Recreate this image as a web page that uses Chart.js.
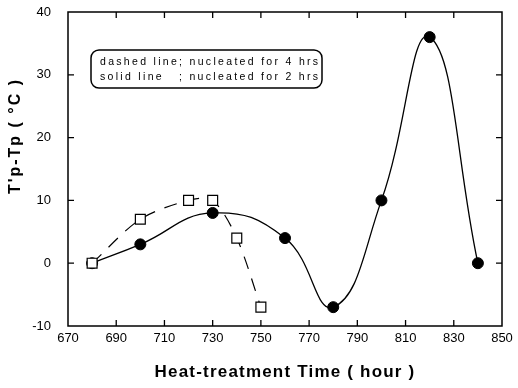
<!DOCTYPE html>
<html>
<head>
<meta charset="utf-8">
<script src="https://cdn.jsdelivr.net/npm/chart.js@4/dist/chart.umd.min.js"></script>
<style>
  html, body { margin: 0; padding: 0; background: #fff; }
  #wrap { width: 518px; height: 388px; }
</style>
</head>
<body>
<div id="wrap"><canvas id="tpChart"></canvas></div>
<script>
// heat-treatment time (hour) and T'p-Tp (°C)
const hours2h = [680, 700, 730, 760, 780, 800, 820, 840];
const diff2h = [0, 3, 8, 4, -7, 10, 36, 0];
const hours4h = [680, 700, 720, 730, 740, 750];
const diff4h = [0, 7, 10, 10, 4, -7];

const xTicks = [670, 690, 710, 730, 750, 770, 790, 810, 830, 850];
const yTicks = [-10, 0, 10, 20, 30, 40];
const noteTop = "dashed line; nucleated for 4 hrs";
const noteLeft = "solid line";
const noteRight = "; nucleated for 2 hrs";
const xTitle = "Heat-treatment Time ( hour )";
const yTitle = "T'p-Tp ( °C )";

const FONT = "'Liberation Sans', Arial, sans-serif";
const toPoints = (xs, ys) => xs.map((x, i) => ({ x: x, y: ys[i] }));

// frame, inward ticks, note box and axis titles
const framePlugin = {
  id: "frame",
  afterDraw(chart) {
    const ctx = chart.ctx;
    const a = chart.chartArea;
    const xs = chart.scales.x;
    const ys = chart.scales.y;
    ctx.save();
    ctx.strokeStyle = "#000";
    ctx.lineWidth = 1.5;
    ctx.strokeRect(a.left, a.top, a.right - a.left, a.bottom - a.top);

    ctx.lineWidth = 1.3;
    ctx.beginPath();
    xTicks.slice(1, -1).forEach(v => {
      const px = xs.getPixelForValue(v);
      ctx.moveTo(px, a.bottom); ctx.lineTo(px, a.bottom - 6);
      ctx.moveTo(px, a.top); ctx.lineTo(px, a.top + 6);
    });
    yTicks.slice(1, -1).forEach(v => {
      const py = ys.getPixelForValue(v);
      ctx.moveTo(a.left, py); ctx.lineTo(a.left + 6, py);
      ctx.moveTo(a.right, py); ctx.lineTo(a.right - 6, py);
    });
    ctx.stroke();

    // note box, text stretched to the box width
    ctx.lineWidth = 1.5;
    ctx.beginPath();
    ctx.roundRect(91, 50, 231, 38, 8);
    ctx.stroke();
    ctx.fillStyle = "#000";
    ctx.font = "10.5px " + FONT;
    const textL = 100, textR = 318;
    const plain = ctx.measureText(noteTop).width;
    const gap = (textR - textL - plain) / (noteTop.length - 1);
    ctx.letterSpacing = gap.toFixed(2) + "px";
    ctx.textBaseline = "alphabetic";
    ctx.fillText(noteTop, textL, 65);
    ctx.fillText(noteLeft, textL, 80);
    ctx.textAlign = "right";
    ctx.fillText(noteRight, textR + gap, 80);

    // x axis title
    ctx.textAlign = "center";
    ctx.textBaseline = "middle";
    ctx.font = "bold 17px " + FONT;
    ctx.letterSpacing = "1.2px";
    ctx.fillText(xTitle, (a.left + a.right) / 2, 372);

    // y axis title
    ctx.translate(16, 136);
    ctx.rotate(-Math.PI / 2);
    ctx.font = "bold 16px " + FONT;
    ctx.letterSpacing = "2px";
    ctx.fillText(yTitle, 0, 0);
    ctx.restore();
  }
};

const ctx = document.getElementById("tpChart").getContext("2d");
new Chart(ctx, {
  type: "scatter",
  data: {
    datasets: [
      {
        label: "nucleated for 4 hrs",
        data: toPoints(hours4h, diff4h),
        showLine: true,
        borderColor: "#000",
        borderWidth: 1.2,
        borderDash: [13, 10],
        tension: 0.3,
        pointStyle: "rect",
        pointRadius: 7,
        pointBackgroundColor: "#fff",
        pointBorderColor: "#000",
        pointBorderWidth: 1.2
      },
      {
        label: "nucleated for 2 hrs",
        data: toPoints(hours2h, diff2h),
        showLine: true,
        borderColor: "#000",
        borderWidth: 1.3,
        tension: 0.45,
        pointStyle: "circle",
        pointRadius: 5.5,
        pointBackgroundColor: "#000",
        pointBorderColor: "#000",
        pointBorderWidth: 1
      }
    ]
  },
  options: {
    responsive: true,
    maintainAspectRatio: false,
    animation: false,
    layout: { padding: { top: 12, right: 16, left: 0, bottom: 0 } },
    plugins: {
      legend: { display: false },
      tooltip: { enabled: false }
    },
    scales: {
      x: {
        type: "linear",
        min: 670,
        max: 850,
        afterBuildTicks: s => { s.ticks = xTicks.map(v => ({ value: v })); },
        grid: { display: false, drawTicks: false },
        border: { display: false },
        ticks: {
          color: "#000",
          padding: 5,
          font: { family: FONT, size: 13 }
        },
        afterFit: s => { s.height = 62; s.paddingLeft = 0; s.paddingRight = 0; }
      },
      y: {
        min: -10,
        max: 40,
        afterBuildTicks: s => { s.ticks = yTicks.map(v => ({ value: v })); },
        grid: { display: false, drawTicks: false },
        border: { display: false },
        ticks: {
          color: "#000",
          padding: 17,
          font: { family: FONT, size: 13 }
        },
        afterFit: s => { s.width = 68; s.paddingTop = 0; s.paddingBottom = 0; }
      }
    }
  },
  plugins: [framePlugin]
});
</script>
</body>
</html>
